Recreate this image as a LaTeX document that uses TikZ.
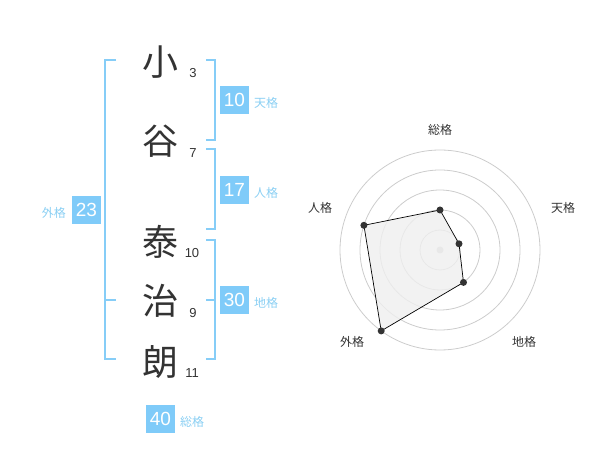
\documentclass[tikz,border=0pt]{standalone}
\usepackage{fontspec}
\newfontfamily\jp{Noto Sans CJK JP}
\newfontfamily\numf{Liberation Sans}
\definecolor{lblue}{HTML}{86CDF7}
\definecolor{bblue}{HTML}{7FCBF9}
\definecolor{tblue}{HTML}{8ACFF3}
\definecolor{dk}{HTML}{333333}
\definecolor{ring}{HTML}{CCCCCC}
\definecolor{polyfill}{HTML}{EFEFEF}
\begin{document}
\begin{tikzpicture}[x=1pt,y=-1pt,
  kanji/.style={font=\jp\fontsize{36}{36}\selectfont,text=dk,inner sep=0pt},
  strokes/.style={font=\numf\fontsize{13}{13}\selectfont,text=dk,inner sep=0pt},
  valbox/.style={fill=bblue,text=white,font=\numf\fontsize{19}{19}\selectfont,minimum width=29pt,minimum height=28pt,inner sep=0pt},
  kaku/.style={font=\jp\fontsize{12}{12}\selectfont,text=tblue,inner sep=0pt},
  brk/.style={draw=lblue,line width=2pt},
  axlbl/.style={font=\jp\fontsize{12}{12}\selectfont,text=dk,inner sep=0pt},
  ringc/.style={draw=ring,line width=0.8pt},
  pt/.style={circle,fill=dk,minimum size=7pt,inner sep=0pt}]
\useasboundingbox (0,0) rectangle (600,470);
% characters
\node[kanji] (k1) at (160,62) {小};
\node[kanji] (k2) at (160,141) {谷};
\node[kanji] (k3) at (160,242) {泰};
\node[kanji] (k4) at (160,301) {治};
\node[kanji] (k5) at (160,362) {朗};
\node[strokes] (s1) at (193,73) {3};
\node[strokes] (s2) at (193,153) {7};
\node[strokes] (s3) at (192,253) {10};
\node[strokes] (s4) at (193,313) {9};
\node[strokes] (s5) at (192,373) {11};
% brackets
\coordinate (b1a) at (206,60); \coordinate (b1b) at (215,60);
\coordinate (b1c) at (215,140); \coordinate (b1d) at (206,140);
\draw[brk] (b1a) -- (b1b) -- (b1c) -- (b1d);
\coordinate (b2a) at (206,149); \coordinate (b2b) at (215,149);
\coordinate (b2c) at (215,229); \coordinate (b2d) at (206,229);
\draw[brk] (b2a) -- (b2b) -- (b2c) -- (b2d);
\coordinate (b3a) at (206,240); \coordinate (b3b) at (215,240);
\coordinate (b3c) at (215,359); \coordinate (b3d) at (206,359);
\coordinate (b3e) at (206,300); \coordinate (b3f) at (215,300);
\draw[brk] (b3a) -- (b3b) -- (b3c) -- (b3d);
\draw[brk] (b3e) -- (b3f);
\coordinate (b4a) at (116,60); \coordinate (b4b) at (105,60);
\coordinate (b4c) at (105,359); \coordinate (b4d) at (116,359);
\coordinate (b4e) at (105,300); \coordinate (b4f) at (116,300);
\draw[brk] (b4a) -- (b4b) -- (b4c) -- (b4d);
\draw[brk] (b4e) -- (b4f);
% value boxes
\node[valbox] (v1) at (234.5,100) {10};
\node[kaku,anchor=west] (l1) at (254,103) {天格};
\node[valbox] (v2) at (234.5,190) {17};
\node[kaku,anchor=west] (l2) at (254,193) {人格};
\node[valbox] (v3) at (234.5,300) {30};
\node[kaku,anchor=west] (l3) at (254,303) {地格};
\node[valbox] (v4) at (86.5,210) {23};
\node[kaku,anchor=east] (l4) at (66,213) {外格};
\node[valbox] (v5) at (160.5,419) {40};
\node[kaku,anchor=west] (l5) at (180,422) {総格};
% radar
\coordinate (c) at (440,250);
\foreach \r in {20,40,60,80,100} \draw[ringc] (c) circle (\r);
\node[circle,fill=ring,minimum size=7pt,inner sep=0pt] (cd) at (c) {};
\coordinate (p1) at (440,210);
\coordinate (p2) at (459.0,243.8);
\coordinate (p3) at (463.5,282.4);
\coordinate (p4) at (381.2,330.9);
\coordinate (p5) at (363.9,225.3);
\draw[fill=polyfill,fill opacity=0.8,draw=black,line width=0.7pt] (p1) -- (p2) -- (p3) -- (p4) -- (p5) -- cycle;
\foreach \p in {p1,p2,p3,p4,p5} \node[pt] at (\p) {};
\node[axlbl] (a1) at (440,130) {総格};
\node[axlbl] (a2) at (563,208) {天格};
\node[axlbl] (a3) at (524,342) {地格};
\node[axlbl] (a4) at (352,342) {外格};
\node[axlbl] (a5) at (320,208) {人格};
\end{tikzpicture}
\end{document}
